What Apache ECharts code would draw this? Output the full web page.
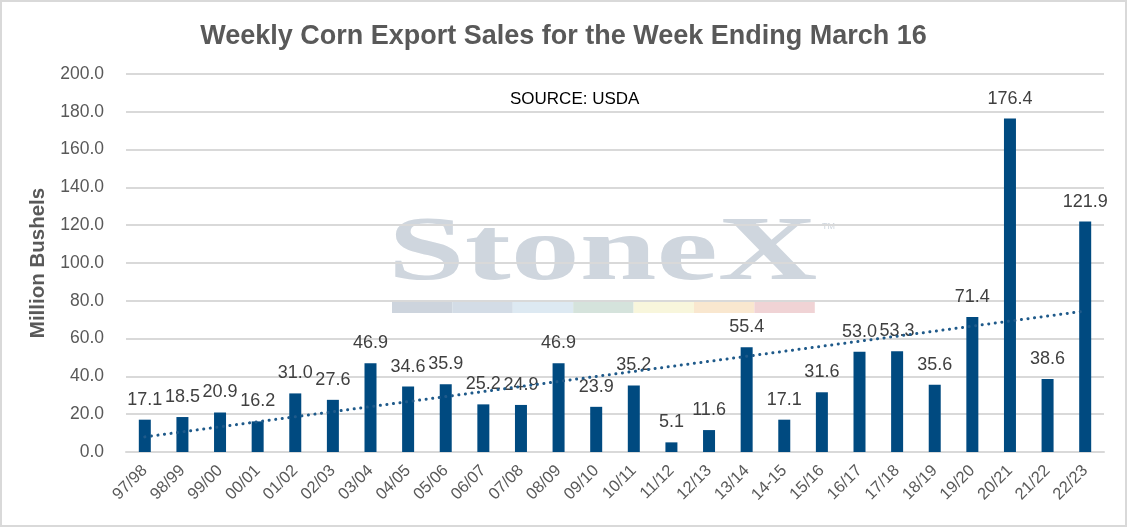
<!DOCTYPE html>
<html>
<head>
<meta charset="utf-8">
<script src="https://cdn.jsdelivr.net/npm/echarts@6/dist/echarts.min.js"></script>
<style>
html, body { margin: 0; padding: 0; background: #fff; }
#chart { width: 1127px; height: 527px; box-sizing: border-box; border: 2px solid #d9d9d9; }
</style>
</head>
<body>
<div id="chart"></div>
<script>
// 年度
var seasons = ['97/98', '98/99', '99/00', '00/01', '01/02', '02/03', '03/04', '04/05', '05/06', '06/07',
	'07/08', '08/09', '09/10', '10/11', '11/12', '12/13', '13/14', '14-15', '15/16', '16/17',
	'17/18', '18/19', '19/20', '20/21', '21/22', '22/23'];
// 周出口销售 (百万蒲式耳)
var sales = [17.1, 18.5, 20.9, 16.2, 31.0, 27.6, 46.9, 34.6, 35.9, 25.2,
	24.9, 46.9, 23.9, 35.2, 5.1, 11.6, 55.4, 17.1, 31.6, 53.0,
	53.3, 35.6, 71.4, 176.4, 38.6, 121.9];
// 趋势线两端
var trendEnds = [8.0, 74.6];
var yTicks = [0, 20, 40, 60, 80, 100, 120, 140, 160, 180, 200];

var myChart = echarts.init(document.getElementById('chart'));
var logoColors = ['#cdd4dd', '#d3dce6', '#dde9f2', '#d5e3dc', '#f8f6dc', '#f9e7cf', '#f0d3d5'];
var logoBar = logoColors.map(function(c, i) {
	return {
		type: 'rect',
		left: 390 + i * 60.4,
		top: 300,
		shape: { width: 60.4, height: 11 },
		style: { fill: c },
		z: -1
	};
});

option = {
	animation: false,
	title: {
		text: 'Weekly Corn Export Sales for the Week Ending March 16',
		left: 'center',
		top: 16,
		textStyle: { fontFamily: 'Liberation Sans, Arial', fontSize: 27, fontWeight: 'bold', color: '#595959' }
	},
	graphic: [{
		type: 'text',
		left: 386,
		top: 207,
		scaleX: 1.5,
		style: { text: 'StoneX', font: 'bold 92px "Liberation Serif", "DejaVu Serif", serif', fill: '#cfd6de' },
		z: -1
	}, {
		type: 'text',
		left: 820,
		top: 220,
		style: { text: 'TM', font: '9px "Liberation Sans", Arial', fill: '#cfd6de' },
		z: -1
	}, {
		type: 'text',
		left: 508,
		top: 89,
		style: { text: 'SOURCE: USDA', font: '17px "Liberation Sans", Arial', fill: '#000' }
	}].concat(logoBar),
	grid: { left: 124, right: 21, top: 72, bottom: 73 },
	xAxis: {
		type: 'category',
		data: seasons,
		axisTick: { show: false },
		axisLine: { lineStyle: { color: '#d9d9d9', width: 2 } },
		axisLabel: { rotate: 45, fontFamily: 'Liberation Sans, Arial', fontSize: 16.5, color: '#595959', margin: 16, interval: 0 }
	},
	yAxis: {
		type: 'value',
		min: 0,
		max: 200,
		interval: 20,
		name: 'Million Bushels',
		nameLocation: 'middle',
		nameGap: 76,
		nameTextStyle: { fontFamily: 'Liberation Sans, Arial', fontSize: 20.5, fontWeight: 'bold', color: '#595959' },
		axisLine: { show: false },
		axisTick: { show: false },
		splitLine: { lineStyle: { color: '#d9d9d9', width: 2 } },
		axisLabel: {
			fontFamily: 'Liberation Sans, Arial', fontSize: 17.5, color: '#595959', margin: 22,
			formatter: function(v) { return yTicks.indexOf(v) >= 0 ? v.toFixed(1) : ''; }
		}
	},
	series: [{
		type: 'bar',
		data: sales,
		barWidth: 12,
		itemStyle: { color: '#004a80' },
		label: {
			show: true,
			position: 'top',
			distance: 11,
			fontFamily: 'Liberation Sans, Arial',
			fontSize: 18,
			color: '#404040',
			formatter: function(p) { return p.value.toFixed(1); }
		},
		markLine: {
			silent: true,
			symbol: ['none', 'none'],
			label: { show: false },
			lineStyle: { type: [0.1, 6.5], color: '#1f5a8a', width: 3, cap: 'round' },
			data: [[
				{ coord: [0, trendEnds[0]] },
				{ coord: [seasons.length - 1, trendEnds[1]] }
			]]
		}
	}]
};
myChart.setOption(option);
</script>
</body>
</html>
